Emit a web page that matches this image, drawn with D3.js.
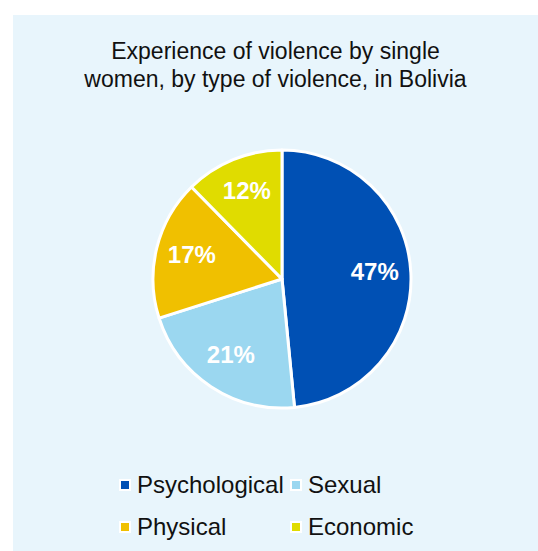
<!DOCTYPE html>
<html>
<head>
<meta charset="utf-8">
<script src="https://cdn.jsdelivr.net/npm/d3@7"></script>
<style>
  html, body { margin: 0; padding: 0; background: #ffffff; }
  svg { display: block; font-family: "Liberation Sans", Arial, sans-serif; }
</style>
</head>
<body>
<svg id="chart" width="538" height="551"></svg>
<script>
// Share of single women reporting each type of violence (%)
const categories = ["Psychological", "Sexual", "Physical", "Economic"];
const values = [47, 21, 17, 12];
const colors = ["#0050b4", "#9bd7f0", "#f0c000", "#e0dc00"];
const titleLines = ["Experience of violence by single", "women, by type of violence, in Bolivia"];

const svg = d3.select("#chart");
const W = 538, H = 551;

// Panel background
svg.append("rect")
  .attr("x", 13).attr("y", 15)
  .attr("width", W - 13).attr("height", H - 15)
  .attr("fill", "#e8f5fc");

// Title
const title = svg.append("text")
  .attr("text-anchor", "middle")
  .attr("font-size", 23)
  .attr("fill", "#111");
titleLines.forEach((line, i) => {
  title.append("tspan")
    .attr("x", 275.5)
    .attr("y", 59 + i * 28)
    .text(line);
});

// Pie
const cx = 282, cy = 279, r = 129;
const data = categories.map((c, i) => ({ name: c, value: values[i], color: colors[i] }));
const pie = d3.pie().value(d => d.value).sort(null);
const arc = d3.arc().innerRadius(0).outerRadius(r);
const labelArc = d3.arc().innerRadius(r * 0.72).outerRadius(r * 0.72);

const g = svg.append("g").attr("transform", `translate(${cx},${cy})`);
const arcs = pie(data);

g.selectAll("path.slice")
  .data(arcs)
  .join("path")
  .attr("class", "slice")
  .attr("d", arc)
  .attr("fill", d => d.data.color)
  .attr("stroke", "#ffffff")
  .attr("stroke-width", 3)
  .attr("stroke-linejoin", "round");

g.selectAll("text.lbl")
  .data(arcs)
  .join("text")
  .attr("class", "lbl")
  .attr("transform", d => `translate(${labelArc.centroid(d)})`)
  .attr("text-anchor", "middle")
  .attr("dy", "0.25em")
  .attr("font-size", 24)
  .attr("font-weight", "bold")
  .attr("fill", "#ffffff")
  .text(d => d.data.value + "%");

// Legend: two columns, two rows
const legendX = [125, 296];
const legendY = [485, 527];
const legend = svg.append("g");
data.forEach((d, i) => {
  const col = i % 2, row = Math.floor(i / 2);
  const x = legendX[col], y = legendY[row];
  legend.append("rect")
    .attr("x", x - 6).attr("y", y - 6)
    .attr("width", 12).attr("height", 12)
    .attr("fill", "#ffffff");
  legend.append("rect")
    .attr("x", x - 4).attr("y", y - 4)
    .attr("width", 8).attr("height", 8)
    .attr("fill", d.color);
  legend.append("text")
    .attr("x", x + 12)
    .attr("y", y)
    .attr("dy", "0.35em")
    .attr("font-size", 24)
    .attr("fill", "#111")
    .text(d.name);
});
</script>
</body>
</html>
